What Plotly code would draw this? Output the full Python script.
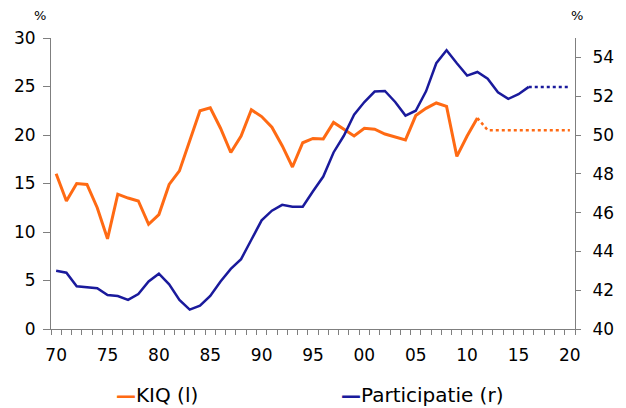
import plotly.graph_objects as go

# ---- data ----
kiq_years = list(range(1970, 2012))
kiq = [16.0, 13.2, 15.0, 14.9, 12.5, 9.3, 13.9, 13.5, 13.2, 10.8,
       11.8, 14.9, 16.3, 19.5, 22.5, 22.8, 20.7, 18.2, 19.9, 22.6,
       21.9, 20.8, 18.9, 16.7, 19.2, 19.65, 19.6, 21.3, 20.6, 19.9,
       20.7, 20.6, 20.1, 19.8, 19.5, 22.0, 22.75, 23.3, 22.95, 17.8,
       19.9, 21.75]
kiq_fc_years = list(range(2011, 2021))
kiq_fc = [21.75, 20.5, 20.5, 20.5, 20.5, 20.5, 20.5, 20.5, 20.5, 20.5]

part_years = list(range(1970, 2017))
part = [43.0, 42.9, 42.2, 42.15, 42.1, 41.75, 41.7, 41.5, 41.8, 42.45,
        42.85, 42.3, 41.5, 41.0, 41.2, 41.7, 42.45, 43.1, 43.6, 44.6,
        45.6, 46.1, 46.4, 46.3, 46.3, 47.1, 47.86, 49.1, 49.96, 51.05,
        51.7, 52.24, 52.27, 51.7, 51.0, 51.25, 52.25, 53.7, 54.37, 53.7,
        53.06, 53.25, 52.9, 52.2, 51.86, 52.1, 52.48]
part_fc_years = list(range(2016, 2021))
part_fc = [52.48, 52.48, 52.48, 52.48, 52.48]

x_tickvals = [1970, 1975, 1980, 1985, 1990, 1995, 2000, 2005, 2010, 2015, 2020]
x_ticktext = ["70", "75", "80", "85", "90", "95", "00", "05", "10", "15", "20"]
left_ticks = [0, 5, 10, 15, 20, 25, 30]
right_ticks = [40, 42, 44, 46, 48, 50, 52, 54]

ORANGE = "#FF6A13"
BLUE = "#1A1A9C"
AXIS = "#7F7F7F"
FONT = "DejaVu Sans"

fig = go.Figure()
fig.add_trace(go.Scatter(x=kiq_years, y=kiq, mode="lines", name="KIQ (l)",
                         line=dict(color=ORANGE, width=3), yaxis="y"))
fig.add_trace(go.Scatter(x=kiq_fc_years, y=kiq_fc, mode="lines", showlegend=False,
                         line=dict(color=ORANGE, width=2.5, dash="dot"), yaxis="y"))
fig.add_trace(go.Scatter(x=part_years, y=part, mode="lines", name="Participatie (r)",
                         line=dict(color=BLUE, width=2.5), yaxis="y2"))
fig.add_trace(go.Scatter(x=part_fc_years, y=part_fc, mode="lines", showlegend=False,
                         line=dict(color=BLUE, width=2.5, dash="dot"), yaxis="y2"))

fig.update_layout(
    width=626, height=408,
    margin=dict(l=51, r=45, t=38, b=79, pad=0),
    paper_bgcolor="white", plot_bgcolor="white",
    showlegend=False,
    font=dict(family=FONT, size=17, color="black"),
    xaxis=dict(range=[1969.5, 2020.5], tickmode="array", tickvals=x_tickvals,
               ticktext=x_ticktext, ticks="", showgrid=False, zeroline=False,
               showline=True, linecolor=AXIS, linewidth=1,
               tickfont=dict(size=17), ticklabelstandoff=11,
               minor=dict(tickmode="linear", tick0=1969.5, dtick=1, ticks="outside",
                          ticklen=5, tickcolor=AXIS, showgrid=False)),
    yaxis=dict(range=[0, 30], tickmode="array", tickvals=left_ticks,
               ticks="outside", ticklen=7, tickcolor=AXIS, showgrid=False,
               zeroline=False, showline=True, linecolor=AXIS, linewidth=1,
               tickfont=dict(size=17), ticklabelstandoff=4),
    yaxis2=dict(range=[40, 55], tickmode="array", tickvals=right_ticks,
                overlaying="y", side="right", ticks="outside", ticklen=5,
                tickcolor=AXIS, showgrid=False, zeroline=False, showline=True,
                linecolor=AXIS, linewidth=1, tickfont=dict(size=17),
                ticklabelstandoff=8),
)

annotations = [
    dict(text="%", xref="paper", yref="paper", x=-0.021, y=1.078,
         xanchor="center", yanchor="middle", showarrow=False,
         font=dict(size=13, family=FONT)),
    dict(text="%", xref="paper", yref="paper", x=1.004, y=1.078,
         xanchor="center", yanchor="middle", showarrow=False,
         font=dict(size=13, family=FONT)),
    dict(text=f"<span style='color:{ORANGE}'><b>\u2014</b></span>KIQ (l)",
         xref="paper", yref="paper", x=0.12, y=-0.227,
         xanchor="left", yanchor="middle", showarrow=False,
         font=dict(size=20, family=FONT)),
    dict(text=f"<span style='color:{BLUE}'><b>\u2014</b></span>Participatie (r)",
         xref="paper", yref="paper", x=0.549, y=-0.227,
         xanchor="left", yanchor="middle", showarrow=False,
         font=dict(size=20, family=FONT)),
]
fig.update_layout(annotations=annotations)

fig.write_html("out.html")
